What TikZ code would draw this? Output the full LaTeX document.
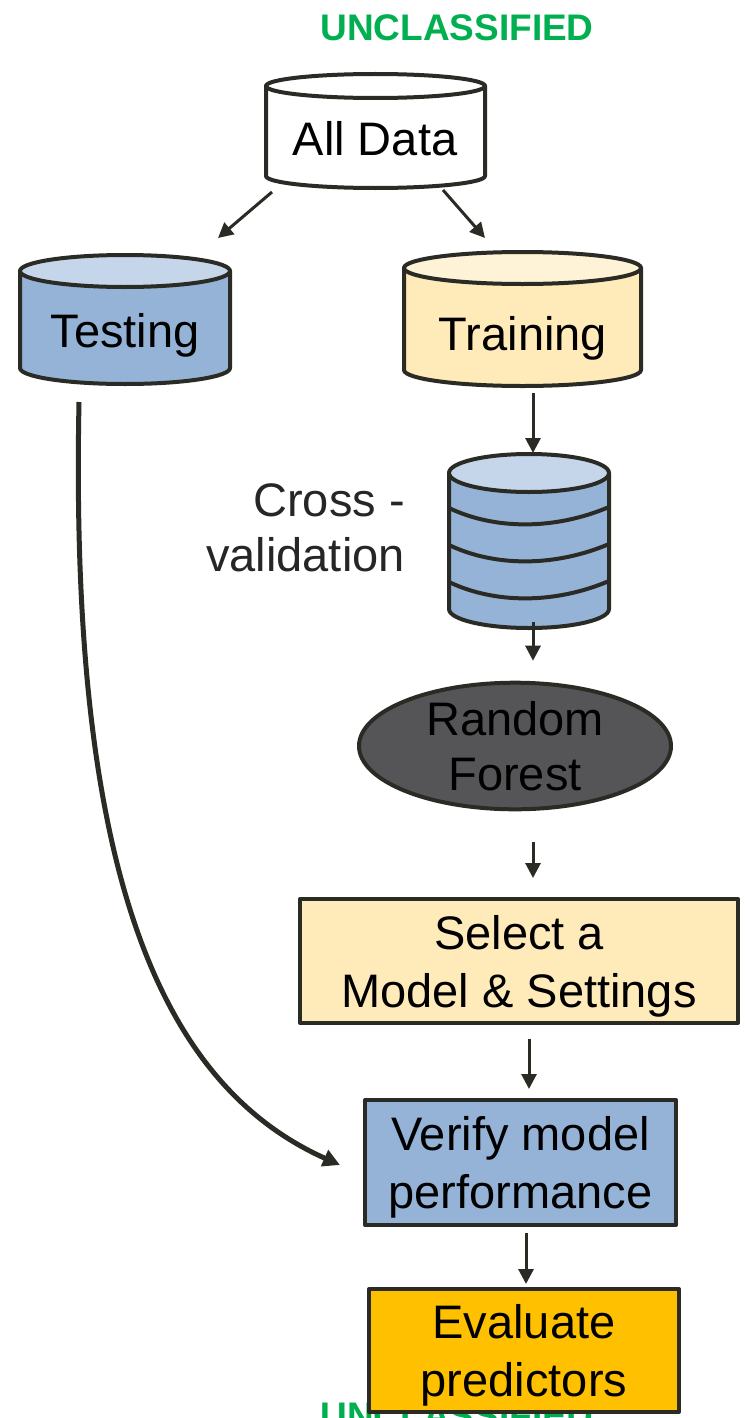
\documentclass[tikz,border=0pt]{standalone}
\usepackage{fontspec}
\setmainfont{Liberation Sans}
\usetikzlibrary{arrows.meta,shapes.geometric}
\definecolor{ink}{HTML}{2B2B26}
\definecolor{bluebody}{HTML}{95B3D7}
\definecolor{bluetop}{HTML}{C5D6EB}
\definecolor{creambody}{HTML}{FFEAB9}
\definecolor{creamtop}{HTML}{FFF3D7}
\definecolor{amber}{HTML}{FFC000}
\definecolor{slate}{HTML}{555558}
\definecolor{markgreen}{HTML}{00B050}
\definecolor{labelgrey}{HTML}{262626}

% cylinder: #1 left x, #2 right x, #3 top centre y, #4 bottom centre y,
% #5 vertical radius, #6 body colour, #7 lid colour (y measured downward)
\newcommand\drawcyl[7]{%
  \pgfmathsetmacro\cylrx{(#2-#1)/2}%
  \pgfmathsetmacro\cylcx{(#1+#2)/2}%
  \filldraw[shapeline,fill=#6] (#1,-#3) -- (#1,-#4)
    arc[start angle=180,end angle=360,x radius=\cylrx,y radius=#5] -- (#2,-#3) -- cycle;
  \filldraw[shapeline,fill=#7] (\cylcx,-#3) ellipse[x radius=\cylrx,y radius=#5];
}

\begin{document}
\begin{tikzpicture}[x=1pt,y=1pt,
  shapeline/.style={draw=ink,line width=4pt,line join=round},
  hull/.style={inner sep=0pt,outer sep=0pt,draw=none},
  lbl/.style={font=\fontsize{47}{57}\selectfont,text=black,anchor=base,inner sep=0pt},
  boxnode/.style={shapeline,inner sep=0pt,align=center,text depth=0pt,font=\fontsize{47}{58}\selectfont},
  arr/.style={draw=ink,line width=3pt,-{Triangle[length=15pt,width=15pt]}},
  bigarr/.style={draw=ink,line width=5pt,-{Triangle[length=17pt,width=17pt]}},
  banner/.style={font=\fontsize{37}{40}\selectfont\bfseries,text=markgreen,anchor=base,inner sep=0pt}]
\useasboundingbox (0,0) rectangle (744,-1418);
\fill[white] (0,0) rectangle (744,-1418);

% classification banners
\node[banner] (topbanner) at (457,-41) {UNCLASSIFIED};
\node[banner] (bottombanner) at (457,-1428) {UNCLASSIFIED};

% data stores
\drawcyl{266}{485}{86}{176}{12}{white}{white}
\node[hull,minimum width=223pt,minimum height=117pt] (alldata) at (375.5,-131.5) {};
\node[lbl] (alldatatext) at (375,-155) {All Data};

\drawcyl{20}{230}{271}{368}{16}{bluebody}{bluetop}
\node[hull,minimum width=214pt,minimum height=132pt] (testing) at (125,-319) {};
\node[lbl] (testingtext) at (125,-347) {Testing};

\drawcyl{404}{641}{268}{370}{16}{creambody}{creamtop}
\node[hull,minimum width=241pt,minimum height=135pt] (training) at (522.5,-319.5) {};
\node[lbl] (trainingtext) at (523,-350) {Training};

% cross-validation folds
\drawcyl{449}{609}{473}{609}{19}{bluebody}{bluetop}
\node[hull,minimum width=164pt,minimum height=177pt] (cv) at (529,-541.5) {};
\foreach \yy in {508,545,582}{
  \draw[shapeline] (449,-\yy) .. controls (495,-\yy-22) and (555,-\yy-22) .. (609,-\yy+1);
}
\node[lbl,anchor=base east,text=labelgrey] (cvtext1) at (405,-516) {Cross -};
\node[lbl,anchor=base east,text=labelgrey] (cvtext2) at (405,-571) {validation};

% model and steps
\node[shapeline,ellipse,fill=slate,inner sep=0pt,minimum width=312pt,minimum height=98pt,
      align=center,font=\fontsize{47}{55}\selectfont] (rf) at (515,-746) {Random\\Forest};

\node[boxnode,fill=creambody,minimum width=438pt,minimum height=124pt] (select) at (519,-961) {Select a\\Model \& Settings};
\node[boxnode,fill=bluebody,minimum width=311pt,minimum height=125pt] (verify) at (520.5,-1162.5) {Verify model\\performance};
\node[boxnode,fill=amber,minimum width=310pt,minimum height=123pt] (evaluate) at (524,-1350.5) {Evaluate\\predictors};

% connectors
\draw[arr] ([shift={(8,-2)}]alldata.south west) -- ([shift={(-14,15)}]testing.north east);
\draw[arr] ([shift={(-44,0)}]alldata.south east) -- ([shift={(-37.5,14)}]training.north);
\draw[arr] ([shift={(10.5,-6)}]training.south) -- ([shift={(4,0)}]cv.north);
\draw[arr] ([shift={(4,8)}]cv.south) -- ([shift={(18,20)}]rf.north);
\draw[arr] ([shift={(18,-31)}]rf.south) -- ([shift={(14,19)}]select.north);
\draw[arr] ([shift={(10,-14)}]select.south) -- ([shift={(8.5,9)}]verify.north);
\draw[arr] ([shift={(5.5,-6)}]verify.south) -- ([shift={(2,3)}]evaluate.north);
\draw[bigarr] ([shift={(-46,-17)}]testing.south) .. controls +(-9,-448) and +(-190,85) .. ([shift={(-23,-2.5)}]verify.west);
\end{tikzpicture}
\end{document}
